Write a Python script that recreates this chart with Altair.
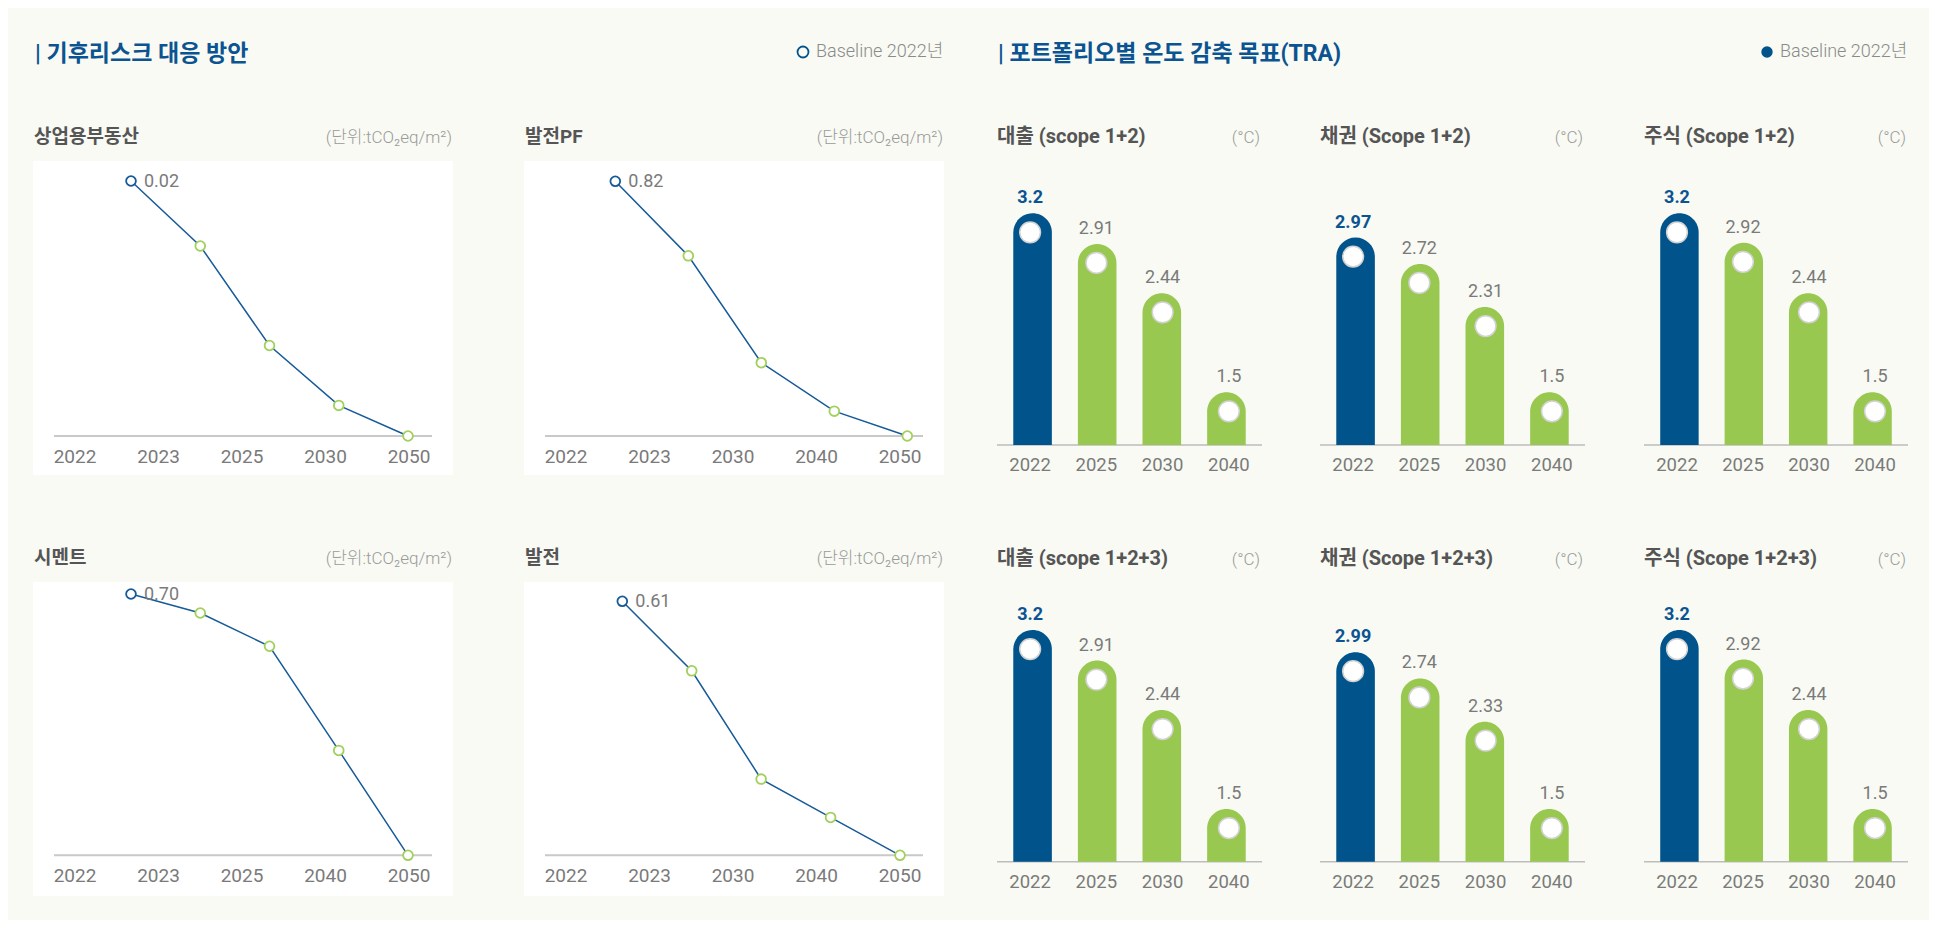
import altair as alt
import pandas as pd

# ---------------- data ----------------
section_titles = ["| 기후리스크 대응 방안", "| 포트폴리오별 온도 감축 목표(TRA)"]
legend_text = "Baseline 2022년"

line_titles = ["상업용부동산", "발전PF", "시멘트", "발전"]
line_unit = "(단위:tCO₂eq/m²)"
line_years = [
    ["2022", "2023", "2025", "2030", "2050"],
    ["2022", "2023", "2030", "2040", "2050"],
    ["2022", "2023", "2025", "2040", "2050"],
    ["2022", "2023", "2030", "2040", "2050"],
]
line_values = [
    [0.020, 0.0149, 0.0071, 0.0024, 0.0],
    [0.82, 0.58, 0.236, 0.080, 0.0],
    [0.70, 0.649, 0.560, 0.281, 0.0],
    [0.61, 0.443, 0.183, 0.091, 0.0],
]
line_first_labels = ["0.02", "0.82", "0.70", "0.61"]

bar_titles = ["대출 (scope 1+2)", "채권 (Scope 1+2)", "주식 (Scope 1+2)",
              "대출 (scope 1+2+3)", "채권 (Scope 1+2+3)", "주식 (Scope 1+2+3)"]
bar_unit = "(°C)"
bar_years = ["2022", "2025", "2030", "2040"]
bar_values = [
    [3.2, 2.91, 2.44, 1.5],
    [2.97, 2.72, 2.31, 1.5],
    [3.2, 2.92, 2.44, 1.5],
    [3.2, 2.91, 2.44, 1.5],
    [2.99, 2.74, 2.33, 1.5],
    [3.2, 2.92, 2.44, 1.5],
]

# ---------------- style / layout ----------------
W, H = 1921, 912
OFF = 8
BG = "#f8faf3"
BLUE = "#00538b"
TITLE_BLUE = "#0b5391"
LINE_BLUE = "#165a98"
GREEN = "#98c850"
PT_GREEN = "#a2d05c"
AXIS = "#c9c9c9"
NUM_GRAY = "#7a7a7a"
UNIT_GRAY = "#9a9a9a"
HEAD_GRAY = "#555555"
FONT = "Roboto, Noto Sans CJK KR, sans-serif"


def px(v):
    return v - OFF


layers = []


def add_text(txt, x, y, size, color, weight="normal", align="left", baseline="middle"):
    layers.append(
        alt.Chart(pd.DataFrame({"t": [txt]}))
        .mark_text(align=align, baseline=baseline, font=FONT, fontSize=size,
                   fontWeight=weight, color=color)
        .encode(x=alt.value(px(x)), y=alt.value(px(y)), text="t:N")
    )


# section headers
add_text(section_titles[0], 35, 54, 23, TITLE_BLUE, "bold")
add_text(section_titles[1], 998, 54, 23, TITLE_BLUE, "bold")
legend_df = pd.DataFrame({"t": [legend_text]})
layers.append(
    alt.Chart(legend_df).mark_point(shape="circle", filled=False, color=BLUE, strokeWidth=1.8,
                                    size=120, opacity=1)
    .encode(x=alt.value(px(803)), y=alt.value(px(52)))
)
layers.append(
    alt.Chart(legend_df).mark_point(shape="circle", filled=True, color=BLUE, size=130, opacity=1)
    .encode(x=alt.value(px(1767)), y=alt.value(px(52)))
)
add_text(legend_text, 816, 52, 18, "#8a8a8a", 300)
add_text(legend_text, 1780, 52, 18, "#8a8a8a", 300)

# ---------------- line panels ----------------
LINE_BOX = [(33, 161), (524, 161), (33, 582), (524, 582)]
BOX_W, BOX_H = 420, 314
LINE_AXIS_Y = [436, 436, 855.3, 855.3]
LINE_TOP_Y = [181, 181.3, 594, 601.3]
LINE_PTS_X = [(98, 375), (91.3, 383.3), (98, 375), (98.3, 376)]
LINE_TITLE_Y = [137, 137, 558, 558]

for k in range(4):
    bx, by = LINE_BOX[k]
    ay, ty = LINE_AXIS_Y[k], LINE_TOP_Y[k]
    p0, p1 = LINE_PTS_X[k]
    df = pd.DataFrame({
        "i": list(range(len(line_values[k]))),
        "year": line_years[k],
        "v": line_values[k],
        "label": [line_first_labels[k]] + [""] * (len(line_values[k]) - 1),
    })
    n = len(line_values[k]) - 1
    xs = alt.Scale(domain=[0, n], range=[px(bx + p0), px(bx + p1)], nice=False, zero=False)
    ys = alt.Scale(domain=[0, max(line_values[k])], range=[px(ay), px(ty)], nice=False, zero=False)
    xl = alt.Scale(domain=[0, n], range=[px(bx + 42), px(bx + 376)], nice=False, zero=False)

    layers.append(
        alt.Chart(pd.DataFrame({"t": [line_titles[k]]})).mark_rect(fill="white")
        .encode(x=alt.value(px(bx)), x2=alt.value(px(bx + BOX_W)),
                y=alt.value(px(by)), y2=alt.value(px(by + BOX_H)))
    )
    layers.append(
        alt.Chart(pd.DataFrame({"t": [line_titles[k]]})).mark_rule(color=AXIS, strokeWidth=2)
        .encode(x=alt.value(px(bx + 21)), x2=alt.value(px(bx + BOX_W - 21)), y=alt.value(px(ay)))
    )
    layers.append(
        alt.Chart(df).mark_line(color=LINE_BLUE, strokeWidth=1.5)
        .encode(x=alt.X("i:Q", scale=xs, axis=None), y=alt.Y("v:Q", scale=ys, axis=None))
    )
    layers.append(
        alt.Chart(df).mark_point(shape="circle", filled=True, fill="white", size=95,
                                 strokeWidth=1.8, opacity=1)
        .encode(x=alt.X("i:Q", scale=xs, axis=None), y=alt.Y("v:Q", scale=ys, axis=None),
                stroke=alt.when(alt.datum.i == 0).then(alt.value(LINE_BLUE)).otherwise(alt.value(PT_GREEN)))
    )
    layers.append(
        alt.Chart(df).transform_filter(alt.datum.i == 0)
        .mark_text(align="left", baseline="middle", dx=13, dy=1, font=FONT, fontSize=18,
                   color=NUM_GRAY)
        .encode(x=alt.X("i:Q", scale=xs, axis=None), y=alt.Y("v:Q", scale=ys, axis=None),
                text="label:N")
    )
    layers.append(
        alt.Chart(df).mark_text(align="center", baseline="middle", font=FONT, fontSize=19,
                                color=NUM_GRAY)
        .encode(x=alt.X("i:Q", scale=xl, axis=None), y=alt.value(px(ay + 21)), text="year:N")
    )
    add_text(line_titles[k], bx + 1, LINE_TITLE_Y[k], 19, HEAD_GRAY, "bold")
    add_text(line_unit, bx + BOX_W - 1, LINE_TITLE_Y[k] + 1, 17, UNIT_GRAY, 300, align="right")

# ---------------- bar panels ----------------
BAR_X = [(997, 1262), (1320, 1585), (1644, 1908)]
BAR_BASE = [445, 861.7]
BAR_TITLE_Y = [137, 559]
PX_PER_DEG = 105.3

for k in range(6):
    col, row = k % 3, k // 3
    x0, x1 = BAR_X[col]
    base = BAR_BASE[row]
    df = pd.DataFrame({
        "i": list(range(len(bar_years))),
        "year": bar_years,
        "v": bar_values[k],
        "label": [f"{v:g}" for v in bar_values[k]],
    })
    xs = alt.Scale(domain=bar_years, range=[px(x0), px(x1)], paddingInner=0.403, paddingOuter=0.252)
    ys = alt.Scale(domain=[1, 4], range=[px(base), px(base - 3 * PX_PER_DEG)], nice=False, zero=False)
    X = alt.X("year:N", scale=xs, axis=None)
    Y = alt.Y("v:Q", scale=ys, axis=None)

    layers.append(
        alt.Chart(pd.DataFrame({"t": [bar_titles[k]]})).mark_rule(color="#bdbdbd", strokeWidth=1.5)
        .encode(x=alt.value(px(x0)), x2=alt.value(px(x1)), y=alt.value(px(base)))
    )
    layers.append(
        alt.Chart(df).mark_bar(cornerRadiusTopLeft=19.25, cornerRadiusTopRight=19.25)
        .encode(x=X, y=Y, y2=alt.datum(1),
                color=alt.when(alt.datum.i == 0).then(alt.value(BLUE)).otherwise(alt.value(GREEN)))
    )
    layers.append(
        alt.Chart(df).mark_point(shape="circle", filled=True, fill="white", stroke="#d2d2d2",
                                 strokeWidth=1.5, size=430, opacity=1, yOffset=19)
        .encode(x=X, y=Y)
    )
    layers.append(
        alt.Chart(df).transform_filter(alt.datum.i == 0)
        .mark_text(align="center", baseline="alphabetic", dy=-10, font=FONT, fontSize=18,
                   fontWeight="bold", color=TITLE_BLUE)
        .encode(x=X, y=Y, text="label:N")
    )
    layers.append(
        alt.Chart(df).transform_filter(alt.datum.i > 0)
        .mark_text(align="center", baseline="alphabetic", dy=-10, font=FONT, fontSize=18,
                   color=NUM_GRAY)
        .encode(x=X, y=Y, text="label:N")
    )
    layers.append(
        alt.Chart(df).mark_text(align="center", baseline="middle", font=FONT, fontSize=18.5,
                                color=NUM_GRAY)
        .encode(x=X, y=alt.value(px(base + 20)), text="year:N")
    )
    add_text(bar_titles[k], x0, BAR_TITLE_Y[row], 20, HEAD_GRAY, "bold")
    add_text(bar_unit, x1 - 2, BAR_TITLE_Y[row] + 1, 17, UNIT_GRAY, 300, align="right")

chart = (
    alt.layer(*layers)
    .resolve_scale(x="independent", y="independent")
    .properties(width=W, height=H, padding=0, background=BG,
                autosize=alt.AutoSizeParams(type="none"))
    .configure_view(stroke=None)
)

chart.save("out.html", embed_options={"renderer": "svg", "actions": False})
